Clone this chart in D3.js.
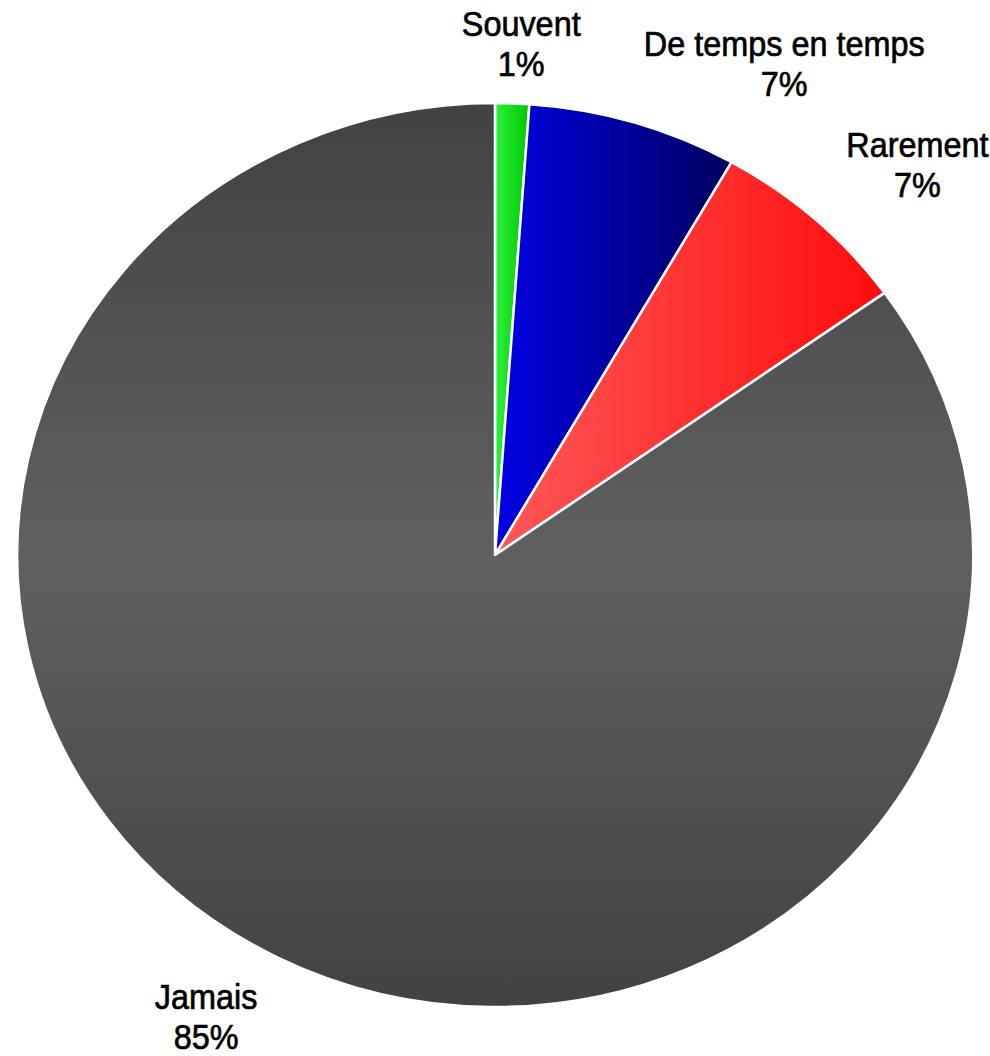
<!DOCTYPE html>
<html>
<head>
<meta charset="utf-8">
<script src="https://cdn.jsdelivr.net/npm/d3@7"></script>
<style>
  html, body { margin: 0; padding: 0; background: #ffffff; }
  svg { display: block; }
</style>
</head>
<body>
<div id="chart"></div>
<script>
// Data
const categories = ["Souvent", "De temps en temps", "Rarement", "Jamais"];
const values = [1.15, 7.1, 6.9, 84.85];
const percentLabels = ["1%", "7%", "7%", "85%"];
const gradientStops = [
  ["#2af03a", "#00c800"],
  ["#0000e6", "#00005e"],
  ["#ff5858", "#ff0c0c"],
  null
];

const W = 990, H = 1056;
const cx = 495, cy = 555, rx = 478, ry = 452;

const svg = d3.select("#chart").append("svg")
  .attr("width", W).attr("height", H);
const defs = svg.append("defs");

gradientStops.forEach((g, i) => {
  if (!g) return;
  const lg = defs.append("linearGradient").attr("id", "g" + i)
    .attr("x1", "0").attr("y1", "0").attr("x2", "1").attr("y2", "0");
  lg.append("stop").attr("offset", "0").attr("stop-color", g[0]);
  lg.append("stop").attr("offset", "1").attr("stop-color", g[1]);
});
// vertical gradient for the large grey slice, over the whole pie's height
const gg = defs.append("linearGradient").attr("id", "g3")
  .attr("gradientUnits", "userSpaceOnUse")
  .attr("x1", 0).attr("y1", -1).attr("x2", 0).attr("y2", 1);
gg.append("stop").attr("offset", "0").attr("stop-color", "#424242");
gg.append("stop").attr("offset", "0.5").attr("stop-color", "#606060");
gg.append("stop").attr("offset", "1").attr("stop-color", "#424242");

const pie = d3.pie().sort(null).value(d => d.v);
const data = categories.map((c, i) => ({ c, v: values[i], p: percentLabels[i], i }));
const arcs = pie(data);
const arc = d3.arc().innerRadius(0).outerRadius(1);

const g = svg.append("g").attr("transform", `translate(${cx},${cy}) scale(${rx},${ry})`);
g.selectAll("path").data(arcs).enter().append("path")
  .attr("d", arc)
  .attr("fill", d => `url(#g${d.data.i})`)
  .attr("stroke", "#ffffff")
  .attr("stroke-width", 2.5)
  .attr("stroke-linejoin", "round")
  .attr("vector-effect", "non-scaling-stroke");

// Labels
const fs = 36, sx = 0.9, lh = 40, bh = 80;
const clamp = (v, a, b) => Math.max(a, Math.min(b, v));
arcs.forEach(d => {
  const a = (d.startAngle + d.endAngle) / 2;
  const s = Math.sin(a), c = Math.cos(a);
  const fx = 1.036 + 0.06 * Math.abs(Math.sin(2 * a));
  const fy = 1.036 + (c < 0 ? 0.022 : 0);
  const px = cx + rx * fx * s, py = cy - ry * fy * c;
  const lg = svg.append("g");
  const t = lg.append("text")
    .attr("text-anchor", "middle")
    .attr("font-family", "'Liberation Sans', Arial, sans-serif")
    .attr("font-size", fs)
    .attr("fill", "#000")
    .attr("stroke", "#000")
    .attr("stroke-width", 0.7);
  const t1 = t.append("tspan").attr("x", 0).attr("y", 29 - bh / 2).text(d.data.c);
  const t2 = t.append("tspan").attr("x", 0).attr("y", 29 + lh - bh / 2).text(d.data.p);
  const w = Math.max(t1.node().getComputedTextLength(), t2.node().getComputedTextLength()) * sx;
  const mx = px + (w / 2) * clamp(s / 0.26, -1, 1);
  const my = py - (bh / 2) * clamp(c / 0.5, -1, 1);
  lg.attr("transform", `translate(${mx},${my}) scale(${sx},1)`);
});
</script>
</body>
</html>
